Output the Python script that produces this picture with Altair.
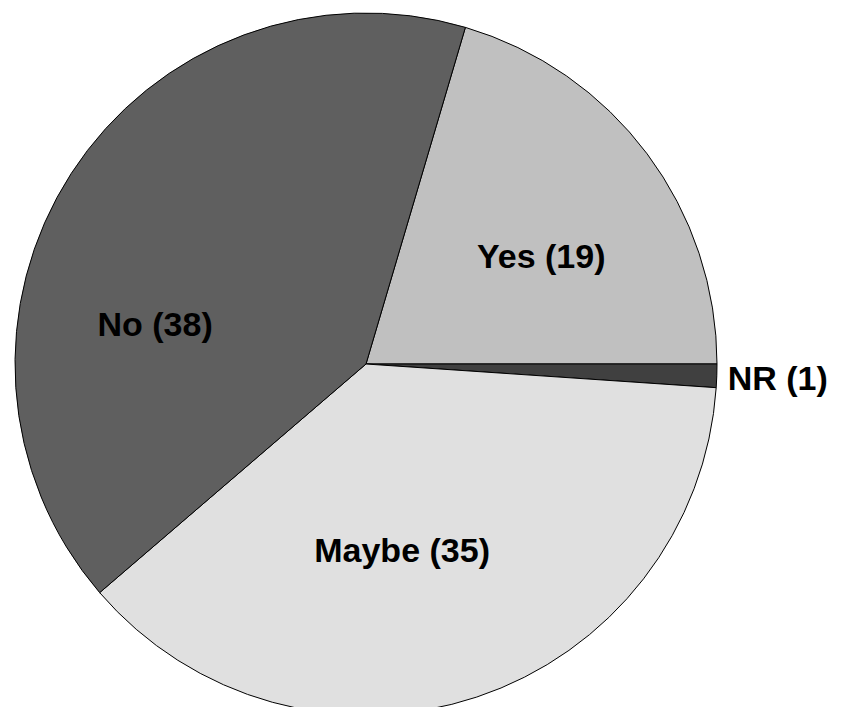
import altair as alt
import pandas as pd

categories = ["Yes", "NR", "Maybe", "No"]
counts = [19, 1, 35, 38]
labels = ["Yes (19)", "NR (1)", "Maybe (35)", "No (38)"]
order = [0, 1, 2, 3]
colors = ["#c0c0c0", "#404040", "#e0e0e0", "#5f5f5f"]

df = pd.DataFrame({"cat": categories, "n": counts, "label": labels, "ord": order})

START = 0.2871  # start angle so Yes ends at 3 o'clock
TWO_PI = 6.283185307
CX, CY, R = 358, 356, 351

theta = alt.Theta("n:Q", stack=True, scale=alt.Scale(range=[START, START + TWO_PI]))
ordr = alt.Order("ord:Q")

base = alt.Chart(df)

pie = base.mark_arc(radius=R, stroke="black", strokeWidth=1).encode(
    theta=theta,
    order=ordr,
    x=alt.value(CX),
    y=alt.value(CY),
    color=alt.Color("cat:N", scale=alt.Scale(domain=categories, range=colors), legend=None),
)

offsets = {
    "Yes": (200, 15, 14),
    "No": (200, -43, 71),
    "Maybe": (200, -27, -2),
    "NR": (412, 0, 2),
}

layers = [pie]
for cat, (rad, dx, dy) in offsets.items():
    t = base.mark_text(
        radius=rad, dx=dx, dy=dy, font="Liberation Sans", fontWeight="bold",
        fontSize=34, color="black", align="center", baseline="middle",
    ).encode(
        theta=theta,
        order=ordr,
        x=alt.value(CX),
        y=alt.value(CY),
        text="label:N",
        opacity=alt.condition(alt.datum.cat == cat, alt.value(1), alt.value(0)),
    )
    layers.append(t)

chart = alt.layer(*layers).properties(
    width=828, height=699, autosize=alt.AutoSizeParams(type="none"), padding=0,
    background="white",
).configure_view(stroke=None, strokeWidth=0)

chart.save("out.html", embed_options={"renderer": "svg", "actions": False})
